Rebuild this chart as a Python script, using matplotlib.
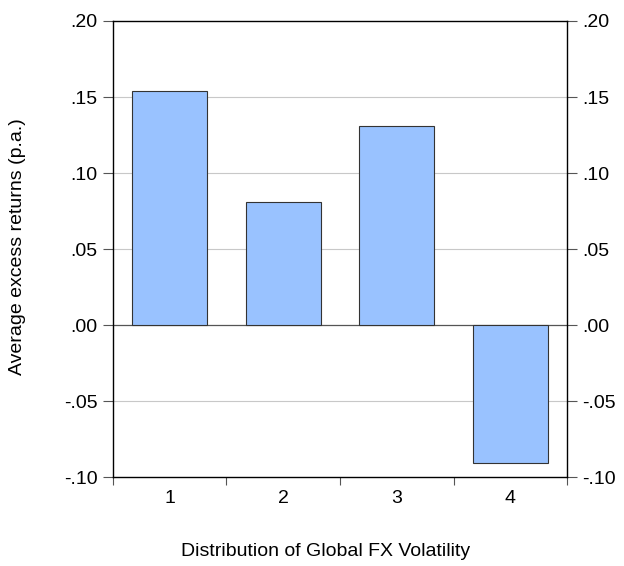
import matplotlib
matplotlib.use("Agg")
import matplotlib.pyplot as plt
from matplotlib.ticker import FixedLocator, FuncFormatter

plt.rcParams['font.family'] = ['Liberation Sans', 'DejaVu Sans']

categories = ["1", "2", "3", "4"]
returns = [0.154, 0.081, 0.131, -0.091]
yticks = [-0.10, -0.05, 0.00, 0.05, 0.10, 0.15, 0.20]

fig = plt.figure(figsize=(6.24, 5.66), dpi=100)
ax = fig.add_axes([0.181, 0.1572, 0.7277, 0.8057])

x = list(range(len(categories)))
ax.bar(x, returns, width=0.66, color="#99C2FF", edgecolor="#333333", linewidth=0.8, zorder=3)

ax.set_xlim(-0.5, len(categories) - 0.5)
ax.set_ylim(-0.10, 0.20)

for v in yticks:
    if v == 0:
        ax.axhline(v, color="#555555", linewidth=0.9, zorder=2)
    elif -0.10 < v < 0.20:
        ax.axhline(v, color="#c8c8c8", linewidth=0.8, zorder=1)

def fmt(v, pos):
    s = f"{v:.2f}"
    return s.replace("0.", ".", 1)

fs = 14
ax.yaxis.set_major_locator(FixedLocator(yticks))
ax.yaxis.set_major_formatter(FuncFormatter(fmt))
ax.tick_params(axis="y", which="both", direction="out", length=7, width=0.8,
               color="#555555", labelsize=fs, left=True, right=True,
               labelleft=True, labelright=True, pad=4)

ax.set_xticks(x)
ax.set_xticklabels(categories)
ax.set_xticks([i - 0.5 for i in range(len(categories) + 1)], minor=True)
ax.tick_params(axis="x", which="major", length=0, labelsize=fs, pad=9)
ax.tick_params(axis="x", which="minor", direction="out", length=6, width=0.8, color="#555555")

for s in ax.spines.values():
    s.set_linewidth(1.0)
    s.set_color("black")

fig.text(18 / 624, 1 - 247 / 566, "Average excess returns (p.a.)", fontsize=fs,
         rotation=90, ha="center", va="center")
fig.text(326 / 624, 1 - 551 / 566, "Distribution of Global FX Volatility", fontsize=fs,
         ha="center", va="center")

fig.savefig("out.png", dpi=100)
